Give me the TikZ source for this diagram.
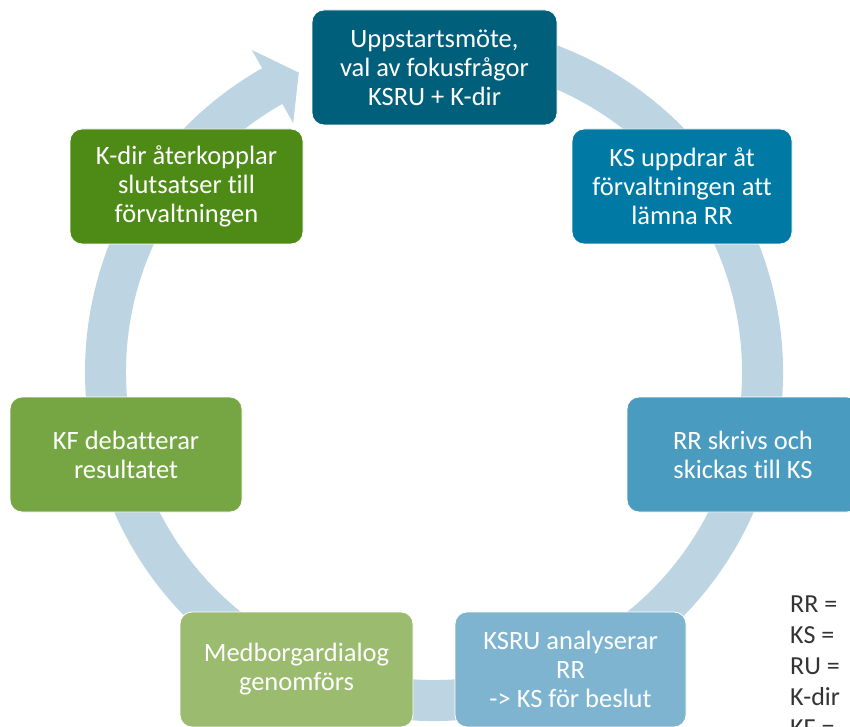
\documentclass[tikz,border=0pt]{standalone}
\usepackage{fontspec}
\setmainfont{Carlito}[Ligatures=CommonOff]
\definecolor{ringc}{HTML}{BDD5E3}
\definecolor{cA}{HTML}{005F7B}
\definecolor{cB}{HTML}{007AA4}
\definecolor{cC}{HTML}{4A9BC0}
\definecolor{cD}{HTML}{7FB4D0}
\definecolor{cE}{HTML}{9BBB6E}
\definecolor{cF}{HTML}{76A644}
\definecolor{cG}{HTML}{4E8B16}
\definecolor{legc}{HTML}{333333}
\begin{document}
\begin{tikzpicture}[x=1pt,y=1pt,
  box/.style={rounded corners=12pt, draw=white, line width=0.8pt, text=white,
    align=center, font=\fontsize{26.5}{29}\selectfont, inner sep=0pt,
    minimum height=115pt},
  legend/.style={anchor=base west, inner sep=0pt, text=legc,
    font=\fontsize{26}{29}\selectfont}]
\useasboundingbox (0,0) rectangle (850,726);
\clip (0,0) rectangle (850,726);
\coordinate (C) at (434,354);
% ring with arrow head
\draw[ringc, line width=41pt] ([shift={(100:328.5)}]C) arc[start angle=100, end angle=-241, radius=328.5];
\fill[ringc] ([shift={(119.5:370)}]C) -- ([shift={(114.3:328.5)}]C) -- ([shift={(119.5:286)}]C) -- cycle;
% boxes
\node[box, fill=cA, minimum width=245pt] (n1) at (434.5,658.5) {Uppstartsmöte,\\val av fokusfrågor\\KSRU + K-dir};
\node[box, fill=cB, minimum width=220pt] (n2) at (682,539.5) {KS uppdrar åt\\förvaltningen att\\lämna RR};
\node[box, fill=cC, minimum width=232pt] (n3) at (743,271.5) {RR skrivs och\\skickas till KS};
\node[box, fill=cD, minimum width=231pt] (n4) at (570.5,56.5) {KSRU analyserar\\RR\\-> KS för beslut};
\node[box, fill=cE, minimum width=233pt] (n5) at (296.5,56.5) {Medborgardialog\\genomförs};
\node[box, fill=cF, minimum width=232pt] (n6) at (126,271.5) {KF debatterar\\resultatet};
\node[box, fill=cG, minimum width=233pt] (n7) at (186.5,539.5) {K-dir återkopplar\\slutsatser till\\förvaltningen};
% legend
\node[legend] (l1) at (790,114) {RR =};
\node[legend] (l2) at (790,83) {KS =};
\node[legend] (l3) at (790,52) {RU =};
\node[legend] (l4) at (790,21) {K-dir};
\node[legend] (l5) at (790,-10) {KF =};
\end{tikzpicture}
\end{document}
